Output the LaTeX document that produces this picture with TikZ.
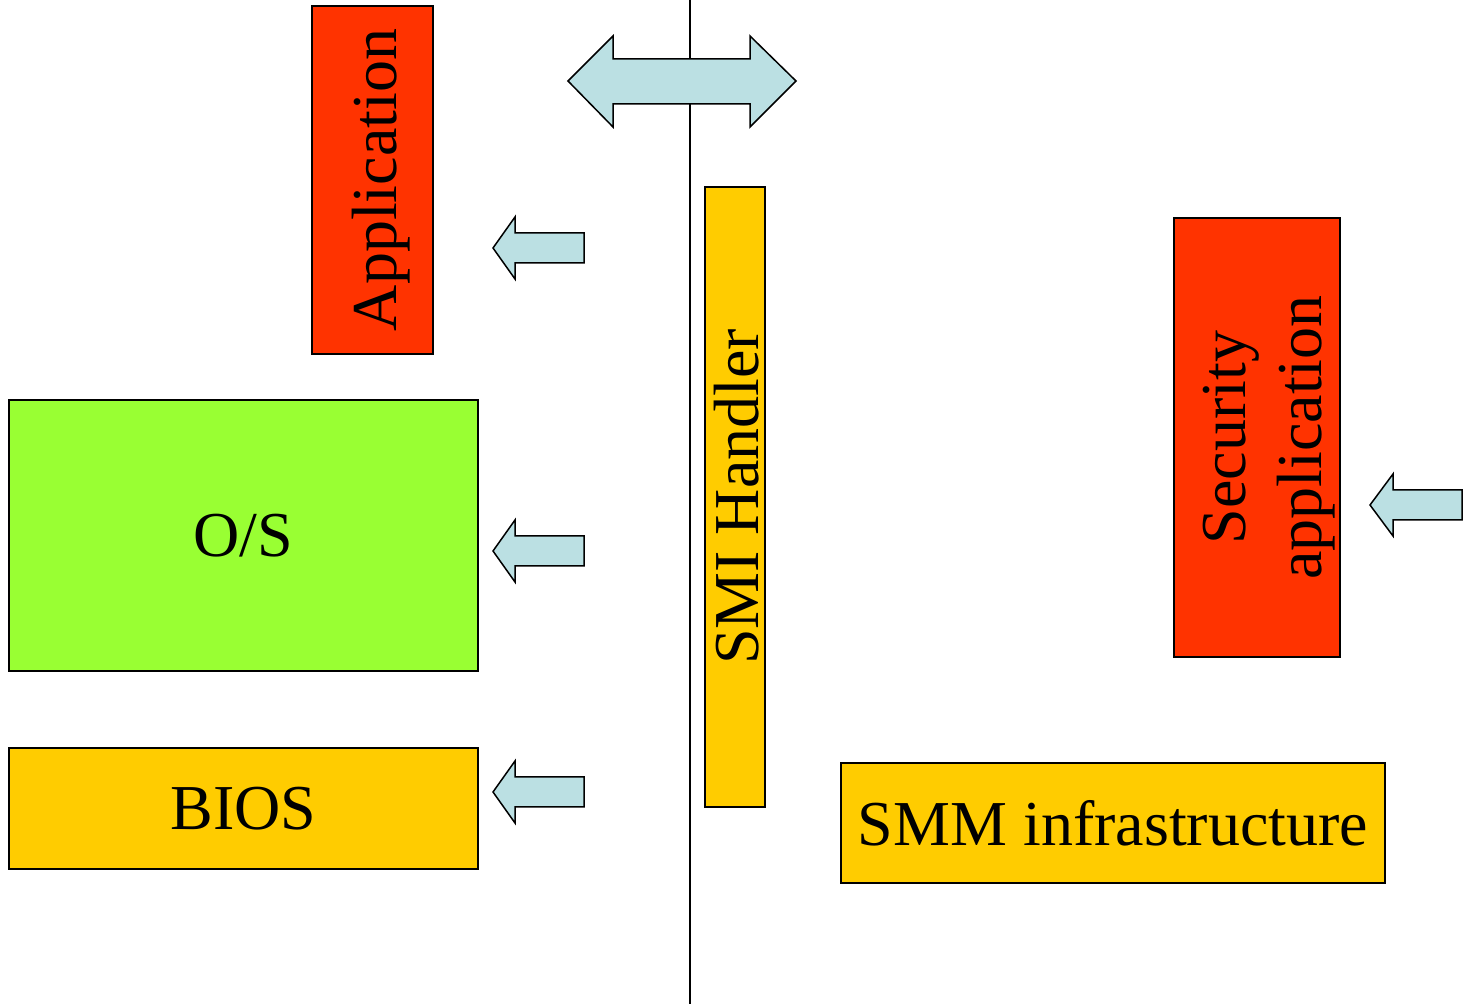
\documentclass[tikz,border=0pt]{standalone}
\usepackage{fontspec}
\setmainfont{Liberation Serif}
\definecolor{appred}{HTML}{FF3300}
\definecolor{osgreen}{HTML}{99FF33}
\definecolor{fwyellow}{HTML}{FFCC00}
\definecolor{arrowblue}{HTML}{BBE0E3}
\tikzset{
  block/.style={draw=black, line width=0.75pt, inner sep=0pt, font=\fontsize{32}{32.5}\selectfont},
  blocklabel/.style={inner sep=0pt, font=\fontsize{32}{38}\selectfont},
  blockarrow/.style={draw=black, line width=0.75pt, fill=arrowblue, line join=miter},
}
% left-pointing block arrow: tip x, centre y, head base x, right end x,
% head half-height, shaft half-height
\newcommand\leftblockarrow[6]{%
  \draw[blockarrow] (#1,#2) -- (#3,#2-#5) -- (#3,#2-#6) -- (#4,#2-#6)
    -- (#4,#2+#6) -- (#3,#2+#6) -- (#3,#2+#5) -- cycle;}
\begin{document}
\begin{tikzpicture}[x=0.5pt, y=-0.5pt]
\useasboundingbox (0,0) rectangle (1468,1004);

% boundary between normal mode and SMM
\coordinate (top) at (690,0);
\coordinate (bottom) at (690,1004);
\draw[line width=0.75pt] (top) -- (bottom);

% normal-mode software stack
\node[block, fill=appred, minimum width=60.5pt, minimum height=174pt] (app) at (372.5,180) {};
\node[blocklabel] at ([xshift=4.5pt]app.center) (applabel) {\rotatebox{90}{Application}};
\node[block, fill=osgreen, minimum width=234.5pt, minimum height=135.5pt] (os) at (243.5,535.5) {O/S};
\node[block, fill=fwyellow, minimum width=234.5pt, minimum height=60.5pt] (bios) at (243.5,808.5) {BIOS};

% SMM side
\node[block, fill=fwyellow, minimum width=30pt, minimum height=310pt] (smi) at (735,497) {};
\node[blocklabel] at ([xshift=1pt]smi.center) (smilabel) {\rotatebox{90}{SMI Handler}};
\node[block, fill=appred, minimum width=83pt, minimum height=219.5pt] (sec) at (1257,437.5) {};
\node[blocklabel] at ([xshift=5.5pt]sec.center) (seclabel)
  {\rotatebox{90}{\begin{tabular}{@{}c@{}}Security\\application\end{tabular}}};
\node[block, fill=fwyellow, minimum width=272pt, minimum height=60pt] (smm) at (1113,823)
  {SMM infrastructure};

% double arrow across the boundary
\draw[blockarrow] (568,81) -- (613,36) -- (613,59) -- (750,59) -- (750,36) -- (796,81)
  -- (750,127) -- (750,104) -- (613,104) -- (613,127) -- cycle;

% arrows pointing at the components
\leftblockarrow{493}{248}{515}{584}{31}{15}
\leftblockarrow{493}{551}{515}{584}{31}{15}
\leftblockarrow{493}{792}{515}{584}{31}{15}
\leftblockarrow{1370}{505}{1393}{1462}{31}{15}
\end{tikzpicture}
\end{document}
